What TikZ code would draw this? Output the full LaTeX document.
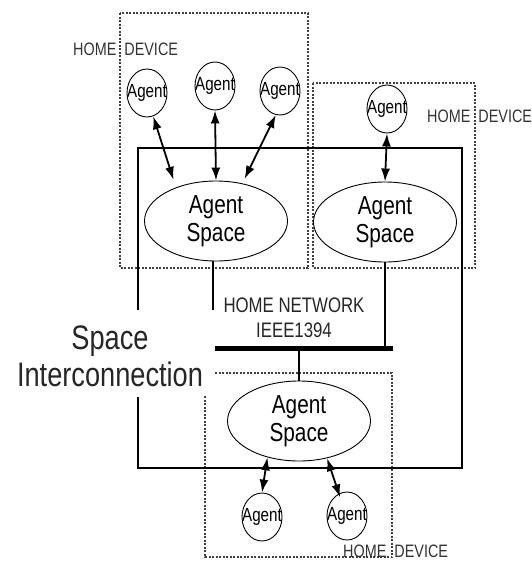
\documentclass[tikz,border=0pt]{standalone}
\usepackage{fontspec}
\setmainfont{Liberation Sans}[FakeStretch=0.8]
\usetikzlibrary{shapes.geometric,arrows.meta}
\begin{document}
\begin{tikzpicture}[x=1pt,y=-1pt,
  agent/.style={ellipse,draw,line width=0.9pt,minimum width=40pt,minimum height=48pt,inner sep=-12pt,font=\fontsize{19}{19}\selectfont},
  aspace/.style={ellipse,draw,line width=0.9pt,minimum width=143pt,minimum height=80pt,inner sep=0pt,align=center,font=\fontsize{26}{28}\selectfont},
  dev/.style={draw=black!75,line width=1.2pt,dash pattern=on 2pt off 1.5pt},
  frame/.style={line width=2.6pt},
  link/.style={line width=2.6pt},
  bus/.style={line width=5pt},
  dblarrow/.style={line width=1.8pt,{Latex[length=13pt,width=9pt]}-{Latex[length=13pt,width=9pt]}},
  lbl/.style={font=\fontsize{18}{18}\selectfont,text=black!80,inner sep=0pt,anchor=base west}
]
\useasboundingbox (0,0) rectangle (532,563);

% home device boxes
\draw[dev] (120,13) rectangle (308,268);
\draw[dev] (313,83) rectangle (475,268);
\coordinate (bb1) at (215,373);
\coordinate (bb2) at (392,373);
\coordinate (bb3) at (392,557);
\coordinate (bb4) at (205,557);
\coordinate (bb5) at (205,395);
\draw[dev] (bb1) -- (bb2) -- (bb3) -- (bb4) -- (bb5);

% labels
\node[lbl] (hd1) at (73,55) {HOME\hspace{8pt}DEVICE};
\node[lbl] (hd2) at (427,122) {HOME\hspace{8pt}DEVICE};
\node[lbl] (hd3) at (343,557) {HOME\hspace{8pt}DEVICE};
\node[font=\fontsize{34}{37}\selectfont,align=center,inner sep=0pt,text=black!85] (si) at (110,356) {Space\\Interconnection};
\node[font=\fontsize{21}{25}\selectfont,align=center,inner sep=0pt,text=black!85] (hn) at (294,318) {HOME NETWORK\\IEEE1394};

% space interconnection frame
\coordinate (f1) at (138,310);
\coordinate (f2) at (138,148);
\coordinate (f3) at (462,148);
\coordinate (f4) at (462,468);
\coordinate (f5) at (138,468);
\coordinate (f6) at (138,397);
\draw[frame] (f1) -- (f2) -- (f3) -- (f4) -- (f5) -- (f6);

% agent spaces
\node[aspace] (s1) at (216,221) {Agent\\Space};
\node[aspace] (s2) at (385,222) {Agent\\Space};
\node[aspace] (s3) at (299,421) {Agent\\Space};

% agents
\node[agent] (a1) at (147,93) {Agent};
\node[agent] (a2) at (215,86) {Agent};
\node[agent] (a3) at (280,91) {Agent};
\node[agent] (a4) at (387,109) {Agent};
\node[agent] (a5) at (262,517) {Agent};
\node[agent] (a6) at (347,516) {Agent};

% arrows
\draw[dblarrow,shorten >=8pt] (a1.-75) -- (s1.140);
\draw[dblarrow] (a2.south) -- (s1.north);
\draw[dblarrow,shorten >=5pt] (a3.-100) -- (s1.55);
\draw[dblarrow] (a4.south) -- (s2.north);
\draw[dblarrow] (s3.-131) -- (a5.north);
\draw[dblarrow,shorten >=-4pt] (s3.-53) -- (a6.110);

% network
\coordinate (barL) at (215,348);
\coordinate (barR) at (393,348);
\coordinate (s1end) at (213,310);
\draw[bus] (barL) -- (barR);
\draw[link] (s1.south) ++(-3,0) coordinate (s1b) -- (s1b |- s1end);
\draw[link] (s2.south) -- (s2.south |- barL);
\draw[link] (s3.north) -- (s3.north |- barL);
\end{tikzpicture}
\end{document}
